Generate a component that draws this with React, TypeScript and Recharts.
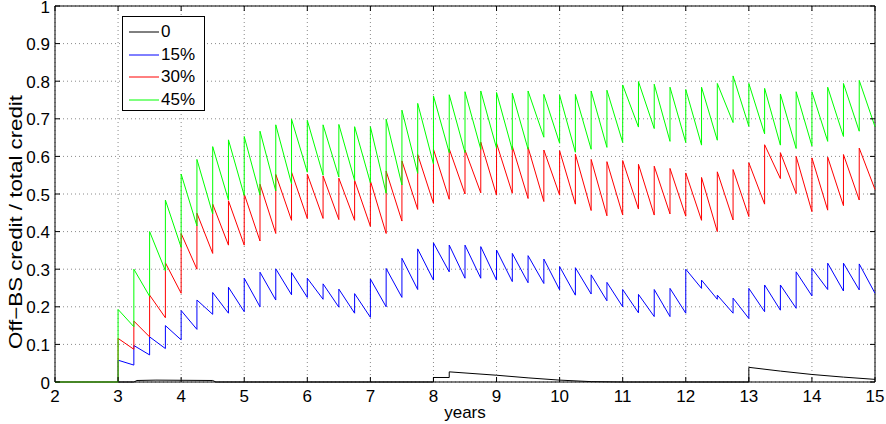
import React from 'react';
import {CartesianGrid, Line, LineChart, ReferenceArea, XAxis, YAxis} from 'recharts';

// quarter start times where every series jumps
const quarters = [
    3, 3.25, 3.5, 3.75, 4, 4.25, 4.5, 4.75, 5, 5.25, 5.5, 5.75,
    6, 6.25, 6.5, 6.75, 7, 7.25, 7.5, 7.75, 8, 8.25, 8.5, 8.75,
    9, 9.25, 9.5, 9.75, 10, 10.25, 10.5, 10.75, 11, 11.25, 11.5, 11.75,
    12, 12.25, 12.5, 12.75, 13, 13.25, 13.5, 13.75, 14, 14.25, 14.5, 14.75,
];

// value right after the jump at each quarter
const peaks45 = [
    0.193, 0.300, 0.400, 0.484, 0.553, 0.592, 0.626, 0.644, 0.653, 0.667, 0.684, 0.699,
    0.696, 0.684, 0.685, 0.679, 0.679, 0.699, 0.723, 0.741, 0.761, 0.764, 0.772, 0.774,
    0.770, 0.768, 0.774, 0.765, 0.763, 0.765, 0.774, 0.776, 0.790, 0.799, 0.792, 0.784,
    0.778, 0.784, 0.794, 0.814, 0.794, 0.781, 0.766, 0.772, 0.772, 0.784, 0.794, 0.802,
];
// value just before the next jump
const troughs45 = [
    0.147, 0.228, 0.296, 0.358, 0.415, 0.447, 0.484, 0.496, 0.497, 0.508, 0.527, 0.558,
    0.550, 0.545, 0.536, 0.530, 0.502, 0.524, 0.555, 0.580, 0.610, 0.610, 0.619, 0.622,
    0.617, 0.619, 0.651, 0.635, 0.611, 0.619, 0.624, 0.637, 0.678, 0.674, 0.640, 0.637,
    0.630, 0.643, 0.690, 0.680, 0.660, 0.630, 0.621, 0.628, 0.640, 0.653, 0.667, 0.679,
];

const peaks30 = [
    0.116, 0.162, 0.231, 0.317, 0.395, 0.449, 0.473, 0.482, 0.500, 0.526, 0.552, 0.558,
    0.553, 0.548, 0.542, 0.536, 0.535, 0.561, 0.588, 0.605, 0.619, 0.620, 0.617, 0.638,
    0.635, 0.627, 0.624, 0.617, 0.615, 0.606, 0.592, 0.586, 0.589, 0.579, 0.574, 0.568,
    0.556, 0.544, 0.559, 0.565, 0.583, 0.631, 0.610, 0.600, 0.596, 0.598, 0.605, 0.622,
];
const troughs30 = [
    0.087, 0.120, 0.171, 0.236, 0.300, 0.342, 0.364, 0.364, 0.375, 0.395, 0.430, 0.435,
    0.435, 0.432, 0.430, 0.414, 0.395, 0.428, 0.459, 0.475, 0.486, 0.500, 0.503, 0.497,
    0.502, 0.488, 0.480, 0.497, 0.473, 0.456, 0.442, 0.444, 0.460, 0.444, 0.447, 0.441,
    0.430, 0.400, 0.431, 0.440, 0.473, 0.541, 0.501, 0.453, 0.457, 0.469, 0.484, 0.512,
];

const peaks15 = [
    0.058, 0.097, 0.120, 0.150, 0.190, 0.218, 0.238, 0.252, 0.276, 0.292, 0.301, 0.291,
    0.276, 0.261, 0.247, 0.235, 0.274, 0.302, 0.329, 0.354, 0.370, 0.364, 0.364, 0.360,
    0.351, 0.342, 0.336, 0.327, 0.307, 0.304, 0.285, 0.265, 0.246, 0.233, 0.246, 0.249,
    0.300, 0.271, 0.231, 0.223, 0.249, 0.258, 0.258, 0.293, 0.302, 0.316, 0.316, 0.314,
];
const troughs15 = [
    0.045, 0.072, 0.089, 0.112, 0.140, 0.180, 0.183, 0.187, 0.200, 0.218, 0.232, 0.225,
    0.220, 0.199, 0.183, 0.172, 0.200, 0.225, 0.246, 0.271, 0.293, 0.276, 0.276, 0.271,
    0.267, 0.264, 0.262, 0.245, 0.231, 0.234, 0.216, 0.200, 0.184, 0.174, 0.174, 0.183,
    0.249, 0.220, 0.183, 0.169, 0.187, 0.191, 0.196, 0.229, 0.246, 0.242, 0.245, 0.236,
];

// the 0% case stays near zero, read as its own points
const zeroX = [2, 3.25, 3.3, 3.6, 4.5, 4.55, 8, 8, 8.25, 8.25, 8.5, 9, 9.5, 10, 10.5, 11, 13, 13, 13.5, 14, 14.5, 15];
const zeroY = [0, 0, 0.004, 0.005, 0.004, 0, 0, 0.012, 0.012, 0.027, 0.024, 0.018, 0.011, 0.005, 0.001, 0, 0, 0.039, 0.029, 0.020, 0.013, 0.007];

const xTicks = [2, 3, 4, 5, 6, 7, 8, 9, 10, 11, 12, 13, 14, 15];
const yTicks = [0, 0.1, 0.2, 0.3, 0.4, 0.5, 0.6, 0.7, 0.8, 0.9, 1];

const series = [
    {name: '0', color: '#000000'},
    {name: '15%', color: '#0000ff'},
    {name: '30%', color: '#ff0000'},
    {name: '45%', color: '#00ff00'},
];

const W = 886;
const H = 424;
const M = {top: 6, right: 11, left: 0, bottom: 0};
const Y_AXIS_W = 55;
const X_AXIS_H = 42;
const PLOT_L = M.left + Y_AXIS_W;
const PLOT_R = W - M.right;
const PLOT_T = M.top;
const PLOT_B = H - X_AXIS_H;
const TICK = 5;
const FONT = '"Liberation Sans", Arial, Helvetica, sans-serif';

// sawtooth rows: jump at each quarter, decay until the next one
const rows: { x: number; s15: number; s30: number; s45: number }[] = [
    {x: 2, s15: 0, s30: 0, s45: 0},
    {x: 3, s15: 0, s30: 0, s45: 0},
];
quarters.forEach((q, i) => {
    rows.push({x: q, s15: peaks15[i], s30: peaks30[i], s45: peaks45[i]});
    rows.push({x: q + 0.25, s15: troughs15[i], s30: troughs30[i], s45: troughs45[i]});
});
const zeroRows = zeroX.map((x, i) => ({x, s0: zeroY[i]}));

const XTick = (props: any) => {
    const {x, payload} = props;
    return (
        <g>
            <line x1={x} x2={x} y1={PLOT_B} y2={PLOT_B - TICK} stroke="#000"/>
            <line x1={x} x2={x} y1={PLOT_T} y2={PLOT_T + TICK} stroke="#000"/>
            <text x={x} y={PLOT_B + 20} textAnchor="middle" fontSize={17} fontFamily={FONT} fill="#000">
                {payload.value}
            </text>
        </g>
    );
};

const YTick = (props: any) => {
    const {y, payload} = props;
    return (
        <g>
            <line x1={PLOT_L} x2={PLOT_L + TICK} y1={y} y2={y} stroke="#000"/>
            <line x1={PLOT_R} x2={PLOT_R - TICK} y1={y} y2={y} stroke="#000"/>
            <text x={PLOT_L - 5} y={y + 6.5} textAnchor="end" fontSize={17} fontFamily={FONT} fill="#000">
                {payload.value}
            </text>
        </g>
    );
};

const YLabel = () => (
    <text
        x={0}
        y={0}
        transform={`translate(22, 222) rotate(-90)`}
        textAnchor="middle"
        fontSize={18}
        fontFamily={FONT}
        fill="#000"
        textLength={254}
        lengthAdjust="spacingAndGlyphs"
    >
        Off−BS credit / total credit
    </text>
);

export default function App() {
    return (
        <div style={{position: 'absolute', left: 0, top: 0, width: W, height: H, background: '#fff'}}>
            <LineChart width={W} height={H} data={rows} margin={M}>
                <CartesianGrid strokeDasharray="1 3" stroke="#8a8a8a"/>
                <XAxis
                    dataKey="x"
                    type="number"
                    domain={[2, 15]}
                    ticks={xTicks}
                    interval={0}
                    height={X_AXIS_H}
                    tickLine={false}
                    axisLine={false}
                    tick={<XTick/>}
                    allowDuplicatedCategory={false}
                    label={{value: 'years', position: 'insideBottom', offset: 6, fontSize: 17, fontFamily: FONT, fill: '#000'}}
                />
                <YAxis
                    type="number"
                    domain={[0, 1]}
                    ticks={yTicks}
                    interval={0}
                    width={Y_AXIS_W}
                    tickLine={false}
                    axisLine={false}
                    tick={<YTick/>}
                    label={<YLabel/>}
                />
                <ReferenceArea x1={2} x2={15} y1={0} y2={1} fill="none" stroke="#000" strokeWidth={1} ifOverflow="visible"/>
                <Line data={zeroRows} dataKey="s0" stroke={series[0].color} strokeWidth={1} dot={false} isAnimationActive={false}/>
                <Line dataKey="s15" stroke={series[1].color} strokeWidth={1} dot={false} isAnimationActive={false}/>
                <Line dataKey="s30" stroke={series[2].color} strokeWidth={1} dot={false} isAnimationActive={false}/>
                <Line dataKey="s45" stroke={series[3].color} strokeWidth={1} dot={false} isAnimationActive={false}/>
            </LineChart>
            <div
                style={{
                    position: 'absolute', left: 122, top: 16, width: 83, height: 95,
                    border: '1.5px solid #000', background: '#fff', fontFamily: FONT, fontSize: 17,
                    boxSizing: 'border-box', paddingTop: 4,
                }}
            >
                {series.map(s => (
                    <div key={s.name} style={{display: 'flex', alignItems: 'center', height: 22.5}}>
                        <svg width={40} height={10} style={{marginLeft: 5}}>
                            <line x1={1} x2={31} y1={5} y2={5} stroke={s.color} strokeWidth={1}/>
                        </svg>
                        <span style={{marginLeft: -7}}>{s.name}</span>
                    </div>
                ))}
            </div>
        </div>
    );
}
